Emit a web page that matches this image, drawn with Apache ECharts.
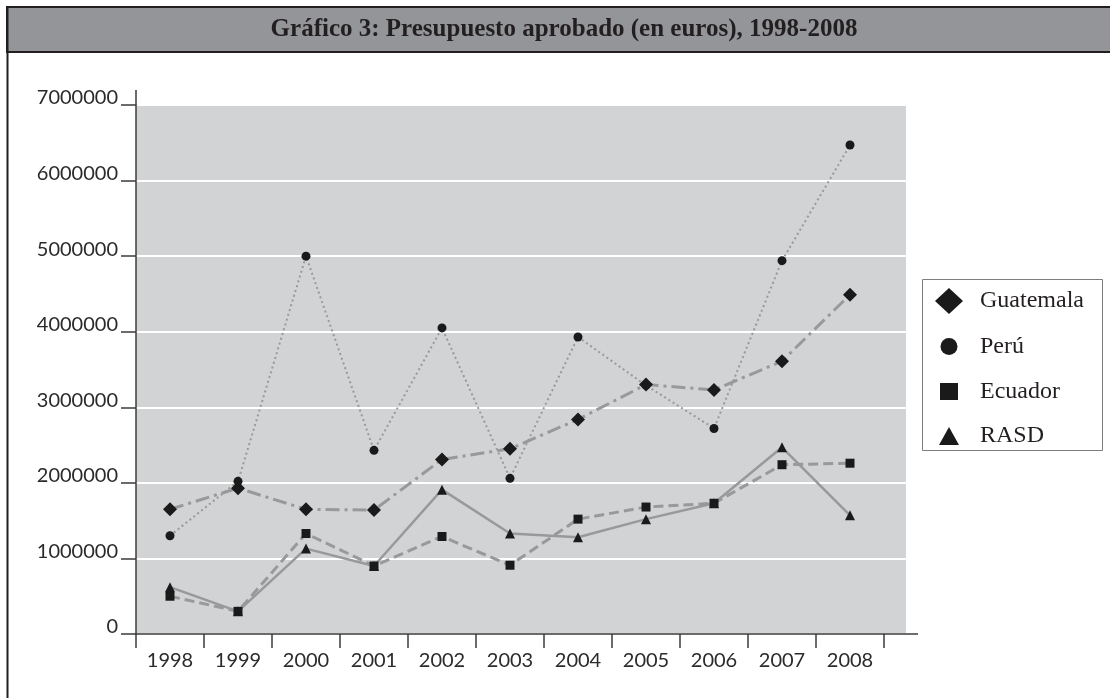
<!DOCTYPE html>
<html>
<head>
<meta charset="utf-8">
<title>Gráfico 3</title>
<script src="https://cdn.jsdelivr.net/npm/echarts@6/dist/echarts.min.js"></script>
<style>
  html, body { margin: 0; padding: 0; background: #fff; }
  #chart { width: 1110px; height: 698px; }
</style>
</head>
<body>
<div id="chart"></div>
<script>
// data
const years = ['1998', '1999', '2000', '2001', '2002', '2003', '2004', '2005', '2006', '2007', '2008'];
const guatemala = [1650000, 1930000, 1650000, 1640000, 2310000, 2450000, 2840000, 3300000, 3230000, 3610000, 4490000];
const peru = [1300000, 2020000, 5000000, 2430000, 4050000, 2060000, 3930000, 3290000, 2720000, 4940000, 6470000];
const ecuador = [500000, 300000, 1330000, 900000, 1290000, 910000, 1520000, 1680000, 1730000, 2240000, 2260000];
const rasd = [620000, 300000, 1130000, 900000, 1910000, 1330000, 1280000, 1520000, 1730000, 2470000, 1570000];
const yMin = 0;
const yMax = 7000000;
const yStep = 1000000;

const lineGrey = '#98999b';
const ink = '#231f20';
const axisFont = 'Lato';
const serifFont = 'Liberation Serif';

const chart = echarts.init(document.getElementById('chart'));

// one legend per item so each icon keeps its own size
const legendItems = [
  { name: 'Guatemala', icon: 'diamond', w: 28, h: 26, cy: 301 },
  { name: 'Perú', icon: 'circle', w: 17, h: 17, cy: 343 },
  { name: 'Ecuador', icon: 'rect', w: 18, h: 17, cy: 388 },
  { name: 'RASD', icon: 'triangle', w: 20, h: 18, cy: 433 }
];
const legends = legendItems.map(it => ({
  data: [it.name],
  icon: it.icon,
  itemWidth: it.w,
  itemHeight: it.h,
  left: 949 - it.w / 2,
  top: it.cy - it.h / 2,
  padding: 0,
  selectedMode: false,
  textStyle: {
    fontFamily: serifFont,
    fontSize: 24,
    color: ink,
    padding: [0, 0, 0, 980 - (949 - it.w / 2 + it.w + 5)]
  }
}));

function lineSeries(name, data, symbol, size, type, width) {
  return {
    name: name,
    type: 'line',
    xAxisIndex: 0,
    yAxisIndex: 0,
    data: data,
    symbol: symbol,
    symbolSize: size,
    showAllSymbol: true,
    animation: false,
    itemStyle: { color: '#1a1a1a' },
    lineStyle: { color: lineGrey, width: width, type: type }
  };
}

chart.setOption({
  backgroundColor: '#fff',
  animation: false,
  graphic: [
    {
      type: 'rect', z: 0,
      shape: { x: 7, y: 7, width: 1115, height: 45 },
      style: { fill: '#939598', stroke: ink, lineWidth: 2 }
    },
    {
      type: 'line', z: 0,
      shape: { x1: 7.5, y1: 7, x2: 7.5, y2: 698 },
      style: { stroke: ink, lineWidth: 2 }
    },
    {
      type: 'text', z: 1,
      x: 564, y: 30,
      style: {
        text: 'Gráfico 3: Presupuesto aprobado (en euros), 1998-2008',
        font: 'bold 25px "Liberation Serif"',
        fill: ink,
        align: 'center',
        verticalAlign: 'middle'
      }
    },
    {
      type: 'line', z: 10,
      shape: { x1: 136, y1: 90, x2: 136, y2: 105 },
      style: { stroke: '#3b3b3b', lineWidth: 1.5 }
    },
    {
      type: 'line', z: 10,
      shape: { x1: 884, y1: 634, x2: 918, y2: 634 },
      style: { stroke: '#3b3b3b', lineWidth: 1.5 }
    },
    {
      type: 'rect', z: 0,
      shape: { x: 922.5, y: 279.5, width: 180, height: 171 },
      style: { fill: 'none', stroke: '#7d7d7d', lineWidth: 1 }
    }
  ],
  legend: legends,
  grid: [
    { left: 136, right: 226, top: 105, bottom: 64, containLabel: false },
    { left: 136, right: 204, top: 105, bottom: 64, show: true, backgroundColor: '#d1d3d4', borderWidth: 0, z: -1 }
  ],
  xAxis: [
    {
      type: 'category',
      gridIndex: 0,
      data: years,
      boundaryGap: true,
      axisLine: { lineStyle: { color: '#3b3b3b', width: 1.5 } },
      axisTick: { show: true, alignWithLabel: false, length: 14, interval: 0, lineStyle: { color: '#3b3b3b', width: 1.5 } },
      axisLabel: { interval: 0, margin: 17, fontFamily: axisFont, fontSize: 20, color: '#2b2b2b' },
      splitLine: { show: false }
    },
    {
      type: 'value',
      gridIndex: 1,
      show: false
    }
  ],
  yAxis: [
    {
      type: 'value',
      gridIndex: 0,
      min: yMin,
      max: yMax,
      interval: yStep,
      axisLine: { show: true, lineStyle: { color: '#3b3b3b', width: 1.5 } },
      axisTick: { show: true, length: 15, lineStyle: { color: '#3b3b3b', width: 1.5 } },
      axisLabel: {
        margin: 18,
        fontFamily: axisFont,
        fontSize: 20,
        color: '#2b2b2b',
        verticalAlign: 'bottom',
        lineHeight: 14,
        formatter: v => String(v)
      },
      splitLine: { show: false }
    },
    {
      type: 'value',
      gridIndex: 1,
      min: yMin,
      max: yMax,
      interval: yStep,
      axisLine: { show: false },
      axisTick: { show: false },
      axisLabel: { show: false },
      splitLine: { show: true, lineStyle: { color: '#ffffff', width: 2 } }
    }
  ],
  series: [
    lineSeries('Guatemala', guatemala, 'diamond', 14, [14, 5, 3, 5], 3),
    lineSeries('Perú', peru, 'circle', 9, [2, 3], 2),
    lineSeries('Ecuador', ecuador, 'rect', 9, [10, 5], 3),
    lineSeries('RASD', rasd, 'triangle', 10, 'solid', 2.5)
  ]
});
</script>
</body>
</html>
